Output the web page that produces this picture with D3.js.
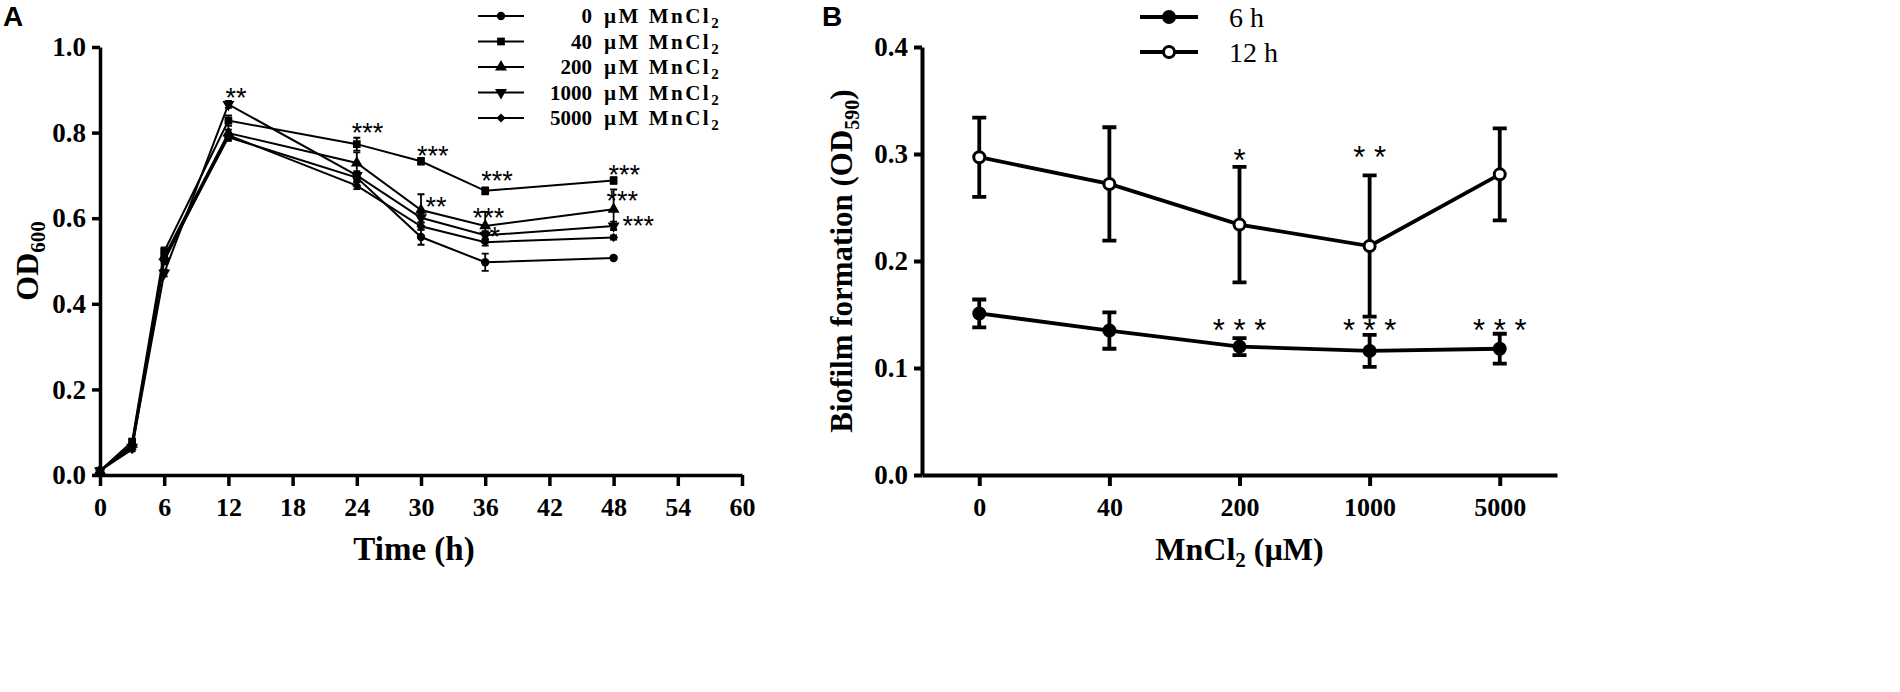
<!DOCTYPE html>
<html>
<head>
<meta charset="utf-8">
<script src="https://cdn.jsdelivr.net/npm/d3@7"></script>
<style>
    body { margin: 0; background: #fff; }
    svg { display: block; }
    text { font-family: "Liberation Serif", "Times New Roman", serif; fill: #000; }
</style>
</head>
<body>
<svg id="chart" width="1900" height="692"></svg>
<script>
// ---- panel A: growth in MnCl2 ----
const hours = [0, 3, 6, 12, 24, 30, 36, 48];
const doses = ["0", "40", "200", "1000", "5000"];
const od0    = [0.010, 0.070, 0.505, 0.789, 0.695, 0.556, 0.497, 0.507];
const od40   = [0.010, 0.078, 0.522, 0.828, 0.773, 0.733, 0.664, 0.688];
const od200  = [0.010, 0.072, 0.510, 0.799, 0.729, 0.619, 0.582, 0.621];
const od1000 = [0.010, 0.065, 0.472, 0.866, 0.700, 0.601, 0.560, 0.582];
const od5000 = [0.010, 0.060, 0.500, 0.794, 0.676, 0.581, 0.544, 0.555];
const err0    = [0, 0.005, 0.010, 0.008, 0.010, 0.018, 0.020, 0.004];
const err40   = [0, 0.005, 0.010, 0.012, 0.015, 0.008, 0.008, 0.008];
const err200  = [0, 0.005, 0.010, 0.008, 0.025, 0.037, 0.033, 0.046];
const err1000 = [0, 0.005, 0.008, 0.008, 0.010, 0.010, 0.010, 0.010];
const err5000 = [0, 0.005, 0.008, 0.005, 0.008, 0.008, 0.008, 0.005];
const hourTicks = [0, 6, 12, 18, 24, 30, 36, 42, 48, 54, 60];
const odTicks = [0, 0.2, 0.4, 0.6, 0.8, 1.0];
const starHours = [12.7, 25.0, 31.1, 37.1, 49.0, 31.4, 36.3, 36.9, 48.8, 50.3];
const starOd    = [0.895, 0.815, 0.760, 0.702, 0.717, 0.642, 0.615, 0.572, 0.654, 0.597];
const starText  = ["**", "***", "***", "***", "***", "**", "***", "*", "***", "***"];

// ---- panel B: biofilm ----
const mnCl = ["0", "40", "200", "1000", "5000"];
const biofilm6  = [0.151, 0.135, 0.120, 0.116, 0.118];
const sd6       = [0.013, 0.017, 0.008, 0.015, 0.014];
const biofilm12 = [0.297, 0.272, 0.234, 0.214, 0.281];
const sd12      = [0.037, 0.053, 0.054, 0.066, 0.043];
const biofilmTicks = [0, 0.1, 0.2, 0.3, 0.4];
const stars6    = ["", "", "* * *", "* * *", "* * *"];
const stars6At  = [0, 0, 0.142, 0.142, 0.142];
const stars12   = ["", "", "*", "* *", ""];
const stars12At = [0, 0, 0.301, 0.303, 0];

const growth = [od0, od40, od200, od1000, od5000];
const growthErr = [err0, err40, err200, err1000, err5000];
const symbolsA = [
    {type: d3.symbolCircle, size: 55, rot: 0},
    {type: d3.symbolSquare, size: 60, rot: 0},
    {type: d3.symbolTriangle, size: 62, rot: 0},
    {type: d3.symbolTriangle, size: 62, rot: 180},
    {type: d3.symbolSquare, size: 42, rot: 45}
];

const svg = d3.select("#chart");

function styleAxis(g, width, fontSize){
    g.attr("font-family", "Liberation Serif").attr("font-size", fontSize).attr("font-weight", "bold");
    g.select(".domain").attr("stroke-width", width);
    g.selectAll(".tick line").attr("stroke-width", width);
    g.selectAll(".tick text").attr("fill", "#000");
}

function drawStars(g, x, y, text, size){
    g.append("text")
        .attr("x", x).attr("y", y + 0.57 * size)
        .attr("text-anchor", "middle")
        .style("font-family", "'Liberation Sans', Arial, sans-serif")
        .attr("font-size", size)
        .text(text);
}

// ================= panel A =================
const xA = d3.scaleLinear().domain([0, 60]).range([100, 742]);
const yA = d3.scaleLinear().domain([0, 1]).range([475, 47]);
const gA = svg.append("g");

gA.append("text").attr("x", 3).attr("y", 26)
    .style("font-family", "'Liberation Sans', Arial, sans-serif")
    .attr("font-size", 28).attr("font-weight", "bold").text("A");

const axA_y = gA.append("g").attr("transform", `translate(${xA(0)},0)`)
    .call(d3.axisLeft(yA).tickValues(odTicks).tickFormat(d3.format(".1f")).tickSize(8).tickSizeOuter(0).tickPadding(6));
styleAxis(axA_y, 3.5, 27);
const axA_x = gA.append("g").attr("transform", `translate(0,${yA(0)})`)
    .call(d3.axisBottom(xA).tickValues(hourTicks).tickSize(11).tickSizeOuter(0).tickPadding(12));
styleAxis(axA_x, 3.5, 26);

gA.append("text").attr("x", 414).attr("y", 560).attr("text-anchor", "middle")
    .attr("font-size", 33).attr("font-weight", "bold").text("Time (h)");
const odTitle = gA.append("text").attr("transform", "translate(38,261) rotate(-90)")
    .attr("text-anchor", "middle").attr("font-size", 32).attr("font-weight", "bold");
odTitle.append("tspan").text("OD");
odTitle.append("tspan").attr("font-size", 21).attr("dy", 7).text("600");

const lineA = d3.line().x((d, i) => xA(hours[i])).y(d => yA(d));
growth.forEach((series, s) => {
    gA.append("path").datum(series).attr("d", lineA)
        .attr("fill", "none").attr("stroke", "#000").attr("stroke-width", 2);
    series.forEach((v, i) => {
        const e = growthErr[s][i];
        if (e < 0.004) return;
        const x = xA(hours[i]);
        gA.append("path")
            .attr("d", `M${x},${yA(v - e)}V${yA(v + e)}M${x - 3.5},${yA(v + e)}H${x + 3.5}M${x - 3.5},${yA(v - e)}H${x + 3.5}`)
            .attr("stroke", "#000").attr("stroke-width", 1.8).attr("fill", "none");
    });
    const sym = d3.symbol().type(symbolsA[s].type).size(symbolsA[s].size);
    gA.selectAll(null).data(series).join("path")
        .attr("d", sym)
        .attr("transform", (d, i) => `translate(${xA(hours[i])},${yA(d)}) rotate(${symbolsA[s].rot})`)
        .attr("fill", "#000");
});

starText.forEach((t, i) => drawStars(gA, xA(starHours[i]), yA(starOd[i]), t, 27));

// legend A
const legA = gA.append("g");
doses.forEach((d, i) => {
    const y = 16 + i * 25.5;
    legA.append("line").attr("x1", 478).attr("x2", 524).attr("y1", y).attr("y2", y)
        .attr("stroke", "#000").attr("stroke-width", 2);
    const sym = d3.symbol().type(symbolsA[i].type).size(symbolsA[i].size);
    legA.append("path").attr("d", sym)
        .attr("transform", `translate(501,${y}) rotate(${symbolsA[i].rot})`).attr("fill", "#000");
    legA.append("text").attr("x", 592).attr("y", y + 7).attr("text-anchor", "end")
        .attr("font-size", 21).attr("font-weight", "bold").text(d);
    const lab = legA.append("text").attr("x", 604).attr("y", y + 7)
        .attr("font-size", 21).attr("font-weight", "bold").attr("letter-spacing", 2.5);
    lab.append("tspan").text("\u00b5M MnCl");
    lab.append("tspan").attr("font-size", 15).attr("dy", 5).text("2");
});

// ================= panel B =================
const xB = d3.scalePoint().domain(mnCl).range([922, 1557]).padding(0.44);
const yB = d3.scaleLinear().domain([0, 0.4]).range([475, 47]);
const gB = svg.append("g");

gB.append("text").attr("x", 822).attr("y", 26)
    .style("font-family", "'Liberation Sans', Arial, sans-serif")
    .attr("font-size", 28).attr("font-weight", "bold").text("B");

const axB_y = gB.append("g").attr("transform", "translate(922,0)")
    .call(d3.axisLeft(yB).tickValues(biofilmTicks).tickFormat(d3.format(".1f")).tickSize(8).tickSizeOuter(0).tickPadding(6));
styleAxis(axB_y, 4, 27);
const axB_x = gB.append("g").attr("transform", `translate(0,${yB(0)})`)
    .call(d3.axisBottom(xB).tickSize(11).tickSizeOuter(0).tickPadding(12));
styleAxis(axB_x, 4, 26);

const mnTitle = gB.append("text").attr("x", xB("200")).attr("y", 560).attr("text-anchor", "middle")
    .attr("font-size", 32).attr("font-weight", "bold");
mnTitle.append("tspan").text("MnCl");
mnTitle.append("tspan").attr("font-size", 21).attr("dy", 7).text("2");
mnTitle.append("tspan").attr("dy", -7).text(" (\u00b5M)");

const bioTitle = gB.append("text").attr("transform", "translate(852,261) rotate(-90)")
    .attr("text-anchor", "middle").attr("font-size", 31).attr("font-weight", "bold");
bioTitle.append("tspan").text("Biofilm formation (OD");
bioTitle.append("tspan").attr("font-size", 20).attr("dy", 7).text("590");
bioTitle.append("tspan").attr("dy", -7).text(")");

const lineB = d3.line().x((d, i) => xB(mnCl[i])).y(d => yB(d));
[[biofilm6, sd6, "#000"], [biofilm12, sd12, "#fff"]].forEach(([vals, sds, fill]) => {
    gB.append("path").datum(vals).attr("d", lineB)
        .attr("fill", "none").attr("stroke", "#000").attr("stroke-width", 3.8);
    vals.forEach((v, i) => {
        const x = xB(mnCl[i]), e = sds[i];
        gB.append("path")
            .attr("d", `M${x},${yB(v - e)}V${yB(v + e)}M${x - 7},${yB(v + e)}H${x + 7}M${x - 7},${yB(v - e)}H${x + 7}`)
            .attr("stroke", "#000").attr("stroke-width", 3.8).attr("fill", "none");
    });
    gB.selectAll(null).data(vals).join("circle")
        .attr("cx", (d, i) => xB(mnCl[i])).attr("cy", d => yB(d))
        .attr("r", 5.5).attr("fill", fill).attr("stroke", "#000").attr("stroke-width", 3);
});

stars6.forEach((t, i) => { if (t) drawStars(gB, xB(mnCl[i]), yB(stars6At[i]), t, 31); });
stars12.forEach((t, i) => { if (t) drawStars(gB, xB(mnCl[i]), yB(stars12At[i]), t, 31); });

// legend B
["6 h", "12 h"].forEach((lab, i) => {
    const y = 17 + i * 35;
    gB.append("line").attr("x1", 1140).attr("x2", 1198).attr("y1", y).attr("y2", y)
        .attr("stroke", "#000").attr("stroke-width", 3.8);
    gB.append("circle").attr("cx", 1169).attr("cy", y).attr("r", 5.5)
        .attr("fill", i === 0 ? "#000" : "#fff").attr("stroke", "#000").attr("stroke-width", 3);
    gB.append("text").attr("x", 1229).attr("y", y + 10).attr("font-size", 28).text(lab);
});
</script>
</body>
</html>
